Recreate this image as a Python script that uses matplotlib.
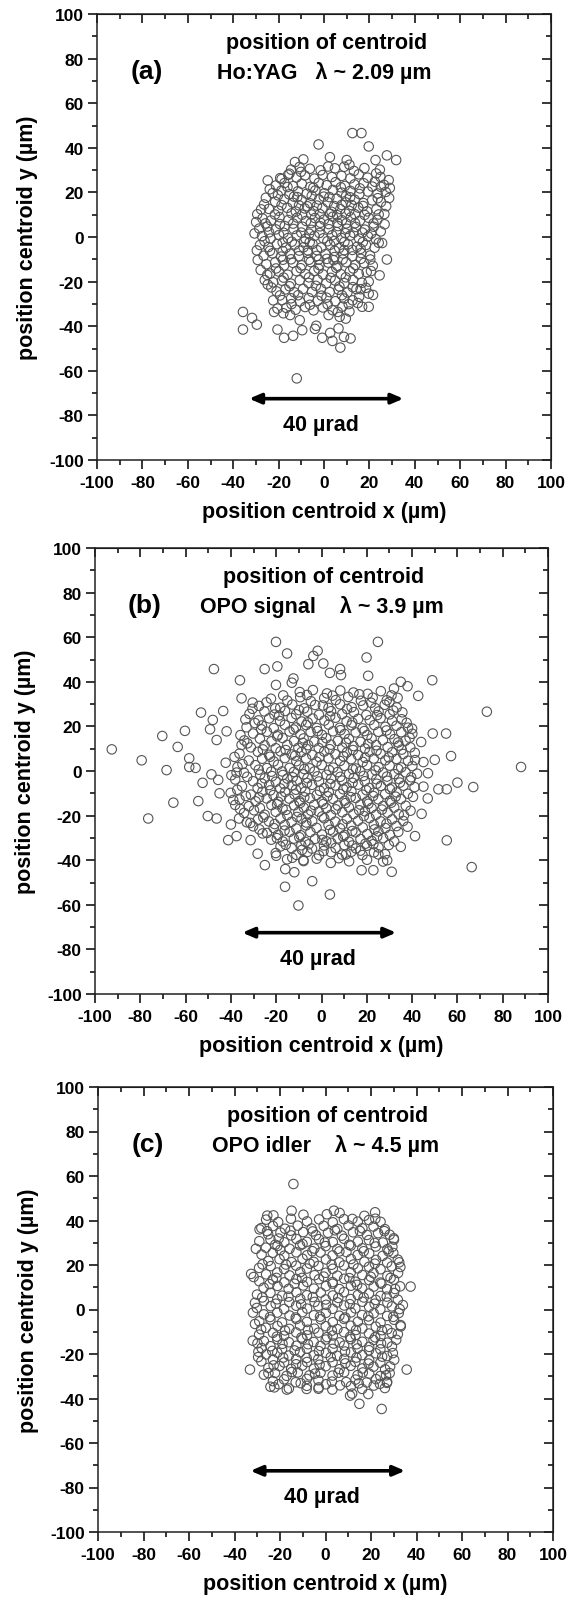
import matplotlib
matplotlib.use("Agg")
import matplotlib.pyplot as plt
from matplotlib.ticker import MultipleLocator, NullFormatter

plt.rcParams['font.family'] = ['Liberation Sans', 'DejaVu Sans']
plt.rcParams['font.weight'] = 'bold'
plt.rcParams['axes.unicode_minus'] = False

# --- data (um) ---
# (a) Ho:YAG, lambda ~ 2.09 um
a_pts = [
    (12.5, 46.6), (16.5, 46.6), (-2.4, 41.5), (19.7, 40.6), (2.6, 35.8), (27.7, 36.6), (31.8, 34.5),
    (22.7, 34.5), (10, 34.5), (-12, -63.4), (-35.7, -33.6), (-31.7, -36.3), (-29.6, -39.3), (-35.7, -41.5),
    (-20.5, -41.5), (-17.6, -45.2), (-13.6, -44.3), (-14.9, -35), (-10.7, -37.3), (-9.6, -41.8), (-4, -41.2),
    (-3.4, -39.8), (-0.8, -45.2), (2.7, -43), (3.7, -46.6), (7.2, -49.6), (6.4, -41), (8.8, -44.8),
    (11.7, -45.5), (9.6, -36.6), (6.9, -35.8), (2, -35), (16.8, -31.3), (19.7, -31.3), (21.6, -26),
    (19.7, -25.4), (19.7, -20), (24.5, -17.2), (27.7, -10.1), (25.6, -2.7), (26.7, 5.7),
    (-27.7, 12.4), (-29.9, 6.7), (-29.6, -6), (-25, -17), (-24.8, -21.3), (-22.4, -28.4), (-22, -33.6),
    (-20.5, -32.1), (-20.3, 18.7), (-18.7, 26), (-15.2, 28.4), (-12.8, 33.6), (-9.1, 34.8), (28.5, 25.5),
    (29, 22), (28.7, 17.5), (23, 28.5), (25, 22.5),
    (-14.5, 30.2), (-10.8, 31.4), (-6.2, 30.6), (-1.5, 29.9), (4.8, 30.8), (8.9, 31.5), (13.2, 29.6),
    (-19.3, 26.4), (-15.8, 27.9), (-12.1, 26.7), (-8.4, 27.6), (-4.2, 26.2), (-0.6, 27.8), (3.5, 26.9),
    (7.7, 27.4), (11.6, 26.3), (15.3, 28.1), (19.2, 26.6), (22.4, 24.8),
    (-21.2, 23.1), (-17.4, 24.2), (-13.6, 22.8), (-9.8, 23.9), (-6, 22.5), (-2.3, 24.3), (1.2, 23.2),
    (5.1, 24.6), (9.2, 22.9), (13.4, 23.6), (17.5, 24.1), (21.3, 22.6), (26.4, 23.4),
    (-22.6, 19.7), (-18.8, 20.8), (-15.3, 19.1), (-11.5, 20.5), (-7.6, 19.4), (-3.8, 20.9), (0.2, 19.6),
    (3.9, 21.1), (7.8, 19.9), (11.6, 20.7), (15.6, 19.3), (19.3, 20.4), (23.6, 19.5), (27.2, 20.2),
    (-21.5, 15.8), (-17.5, 16.9), (-13.8, 15.4), (-9.9, 16.6), (-6.1, 15.1), (-2.2, 16.8), (1.7, 15.6),
    (5.6, 17.1), (9.6, 15.5), (13.5, 16.7), (17.4, 15.2), (21.2, 16.4), (25.1, 15.7),
    (-24.3, 12.6), (-20.1, 11.8), (-16.2, 13.1), (-12.4, 11.4), (-8.5, 12.8), (-4.6, 11.6), (-0.7, 12.9),
    (3.3, 11.3), (7.2, 12.5), (11.1, 11.7), (15.1, 13.2), (19, 11.5), (23.1, 12.4), (26.6, 10.3),
    (-27.1, 8.3), (-23.4, 7.4), (-19.6, 8.9), (-15.7, 7.6), (-11.8, 8.7), (-7.9, 7.2), (-4, 8.5),
    (0, 7.8), (3.9, 9.1), (7.9, 7.5), (11.8, 8.8), (15.8, 7.3), (19.7, 8.6), (23.5, 7.7),
    (-28.5, 3.8), (-25, 4.7), (-21.2, 3.4), (-17.3, 4.9), (-13.4, 3.6), (-9.5, 4.6), (-5.6, 3.2),
    (-1.7, 4.8), (2.2, 3.5), (6.2, 4.9), (10.1, 3.7), (14.1, 4.5), (18, 3.3), (21.9, 4.6), (25, 2.5),
    (-27.3, 0.4), (-23.6, -0.7), (-19.8, 0.9), (-15.9, -0.5), (-12, 0.7), (-8.1, -0.8), (-4.2, 0.5),
    (-0.3, -0.6), (3.6, 0.8), (7.6, -0.4), (11.5, 0.6), (15.5, -0.7), (19.4, 0.3), (22.8, -1),
    (-28.2, -3.6), (-24.5, -4.5), (-20.7, -3.2), (-16.8, -4.8), (-12.9, -3.4), (-9, -4.6), (-5.1, -3.1),
    (-1.2, -4.7), (2.7, -3.5), (6.7, -4.9), (10.6, -3.3), (14.6, -4.4), (18.5, -3.6), (22.3, -4.8),
    (-26.6, -8.4), (-22.7, -7.3), (-18.9, -8.8), (-15, -7.5), (-11.1, -8.6), (-7.2, -7.1), (-3.3, -8.5),
    (0.6, -7.7), (4.6, -9), (8.5, -7.4), (12.5, -8.7), (16.4, -7.2), (20.3, -8.3),
    (-25.4, -12.2), (-21.5, -11.4), (-17.6, -12.8), (-13.7, -11.6), (-9.8, -12.7), (-5.9, -11.2),
    (-2, -12.6), (1.9, -11.5), (5.9, -12.9), (9.8, -11.3), (13.8, -12.5), (17.6, -11.7), (21.5, -12.9),
    (-23.8, -16.4), (-19.9, -15.5), (-16, -16.9), (-12.1, -15.3), (-8.2, -16.6), (-4.3, -15.2),
    (-0.4, -16.8), (3.5, -15.6), (7.5, -16.7), (11.4, -15.4), (15.3, -16.5), (18.8, -15.8),
    (-22.4, -20.3), (-18.5, -19.6), (-14.6, -20.9), (-10.7, -19.4), (-6.8, -20.6), (-2.9, -19.2),
    (1, -20.8), (4.9, -19.5), (8.9, -20.7), (12.8, -19.3), (16.7, -20.5),
    (-20.9, -24.4), (-17, -23.5), (-13.1, -24.8), (-9.2, -23.3), (-5.3, -24.6), (-1.4, -23.2),
    (2.5, -24.7), (6.4, -23.6), (10.3, -24.9), (14.3, -23.4),
    (-18.4, -28.3), (-14.5, -27.5), (-10.6, -28.9), (-6.7, -27.4), (-2.8, -28.6), (1.1, -27.2),
    (5, -28.8), (8.9, -27.6), (12.6, -28.4),
    (-16.6, -31.8), (-12.5, -32.6), (-8.3, -31.4), (-4.6, -32.9), (-0.5, -31.6), (3.8, -32.8),
    (8.1, -31.2), (11.2, -33.4),
    (-13.2, 18.1), (-5.4, 18.4), (2.4, 17.9), (9.7, 18.3), (-11, 14.2), (-3.1, 14.1), (4.5, 13.9),
    (12.2, 14.3), (-9.7, 10), (-1.9, 10.3), (5.8, 9.8), (13.6, 10.2), (-13.6, 6), (-5.8, 6.2), (2, 5.8),
    (9.8, 6.1), (-10, 2), (-2, 1.8), (5.5, 2.2), (13, 1.9), (-14.2, -2.1), (-6.3, -2.3), (1.5, -1.9),
    (9, -2.2), (-10.9, -6.1), (-3.1, -5.9), (4.7, -6.2), (12.5, -5.8), (-14.5, -10), (-6.6, -10.2),
    (1.2, -9.8), (8.2, -10.1), (-10.3, -14), (-2.4, -14.2), (5.4, -13.8), (12.9, -14.1),
]
a_dense = [
    (-24.8, 25.4), (-10.2, 29.2), (1.8, 31.6), (11.2, 32.4), (17.8, 30.9), (24.6, 30.2),
    (-23.9, 21.4), (-16.1, 22.4), (-4.7, 22.1), (7.4, 22.3), (15.8, 21.8), (24.9, 26.9),
    (-25.6, 17.6), (-11.8, 17.9), (-0.1, 18.1), (11.5, 17.8), (23.7, 17.4), (27.4, 13.8),
    (-26.4, 14.6), (-18.7, 14.3), (-7.4, 13.8), (7.8, 14.4), (17.2, 13.9), (24.1, 10.1),
    (-29.4, 10.2), (-21.6, 10.1), (-14.3, 10.6), (-5.6, 10.1), (2.7, 10.4), (9.5, 10.5), (17.9, 9.9),
    (-25.8, 6.1), (-19.4, 5.8), (-1.6, 6.4), (5.9, 6.4), (13.7, 6.2), (21.8, 6.1),
    (-30.6, 1.6), (-24.2, 2.1), (-17.8, 1.9), (-6.5, 1.5), (9.4, 1.7), (16.9, 2), (24.1, -2.6),
    (-26.2, -1.9), (-18.2, -2.4), (-8.7, -2.1), (4.5, -1.8), (17.1, -2.3), (20.8, 1.5),
    (-29.2, -10.3), (-23.8, -6.2), (-18.2, -6.3), (-7.1, -6), (8.9, -5.9), (16.1, -5.3), (20.4, -10.1),
    (-27.9, -14.8), (-21.1, -14.1), (-18.1, -10.2), (-2.3, -10.1), (4.2, -10.4), (16.2, -9.8), (20.7, -15.3),
    (-26.1, -19.3), (-17.8, -18.2), (-6.6, -18.1), (2.9, -18.3), (9.6, -18.1), (16.1, -23.4),
    (-23.2, -22.6), (-15.2, -22.1), (-3.6, -21.9), (6.8, -22.2), (12.7, -22.5), (18.5, -22.8),
    (-19.4, -26.2), (-11.4, -26.1), (-1.1, -26.3), (7.9, -26.1), (15.5, -26.8),
    (-17.9, -34.2), (-14.3, -30.1), (-6.2, -30.4), (1.6, -30.2), (6.1, -33.6), (10.9, -30.1), (14.9, -29.6),
]

# (b) OPO signal, lambda ~ 3.9 um
b_pts = [
    (-92.6, 9.7), (-79.4, 4.8), (-76.5, -21.3), (-70.3, 15.7), (-68.4, 0.4), (-65.4, -14.2), (-63.5, 10.8),
    (-60.3, 18), (-58.4, 5.7), (-58.4, 1.8), (-47.5, 45.7), (-36, 40.7), (-35.3, 32.6), (-30.4, 30.7),
    (-25.1, 45.7), (-20.1, 57.9), (-19.5, 46.9), (-20.1, 38.6), (-15.2, 52.7), (-12.4, 41.5), (-13.1, 39.6),
    (-5.8, 47.9), (-1.7, 53.9), (-3.6, 51.6), (0.8, 48.2), (3.7, 44), (8.2, 45.7), (8.6, 43), (19.9, 50.9),
    (24.9, 57.9), (20.6, 42.7), (42.7, 33.7), (48.9, 40.7), (49.1, 16.8), (55, 16.8), (57.2, 6.7),
    (73, 26.6), (88.1, 1.8), (60, -5.2), (67, -7.2), (55.3, -8.2), (51.6, -8.2), (46.9, -12.3),
    (44.2, -19.2), (41.3, -29.2), (55.3, -31.1), (66.3, -43.1), (31, -45.2), (17.7, -44.5), (22.9, -44.5),
    (25.1, -37.4), (10.8, -37.4), (3.7, -55.4), (-4.1, -49.4), (-10.2, -60.3), (-16.1, -51.9), (-12, -45.4),
    (-25, -42.2), (-28.2, -37.1), (-41.2, -31), (-37.5, -29.2), (-31.3, -31), (-50.2, -20.2),
    (-46.3, -21.3), (-54.4, -13.5), (-52.5, -5.3), (-53.2, 26.2), (-48, 22.9), (-49.2, 18.7), (-43.4, 26.9),
    (-41.9, 17.8), (-46.3, 13.9), (-42.3, 3.7), (-35.3, 11.7), (-37.5, -0.7), (-48.6, -1.5), (-45.6, -4),
    (-55.6, 1.4), (-39, -13), (-45, -10), (-33, -23), (-40, -24), (-26, -28), (-36, -17), (32, 37),
    (35, 40), (38, 38), (30, 31), (47, -1), (45, 4), (44, 13), (40, 19), (50, 5), (45, -7), (38, -25),
    (35, -34), (29, -40), (-8, -40), (-20, -38), (-16, -44),
    (-9.6, 35.4), (-3.8, 36.3), (2.4, 34.8), (8.3, 36.1), (14.1, 35.2), (20.4, 34.6), (26.2, 35.8),
    (-22.3, 32.4), (-15.1, 31.6), (-9.4, 33.1), (-4.7, 31.3), (1.2, 32.7), (6.3, 31.8), (11.8, 33.2),
    (17.4, 31.5), (22.6, 32.9), (28.8, 31.7), (33.6, 32.8),
    (-27.6, 29.2), (-18.2, 28.4), (-12.9, 29.8), (-7.7, 28.1), (-2.8, 29.6), (3.1, 28.3), (8.2, 29.9),
    (13.3, 28.6), (18.4, 29.4), (23.7, 28.2), (27.9, 29.7), (33.2, 28.5),
    (-31.8, 25.6), (-25.2, 26.7), (-20.8, 25.3), (-16.1, 26.9), (-11.2, 25.4), (-6.3, 26.6), (-1.1, 25.2),
    (4.2, 26.8), (9.1, 25.5), (14.3, 26.4), (19.8, 25.1), (25.2, 26.7), (30.1, 25.4), (35.7, 26.3),
    (-27.8, 22.7), (-23.1, 23.6), (-18.3, 22.4), (-13.2, 23.8), (-8.8, 22.2), (-3.9, 23.5), (1.3, 22.6),
    (6.2, 23.9), (11.1, 22.3), (16.2, 23.4), (21.3, 22.8), (26.1, 23.7), (31.2, 22.5), (35.4, 23.2),
    (-33.1, 19.6), (-26.3, 20.4), (-21.1, 19.2), (-16.2, 20.7), (-11.3, 19.5), (-6.8, 20.6), (-2.1, 19.3),
    (3.2, 20.8), (8.1, 19.4), (13.2, 20.5), (18.1, 19.1), (23.3, 20.6), (28.2, 19.8), (33.1, 20.3),
    (38.2, 19.4),
    (-30.2, 16.8), (-24.1, 17.6), (-19.2, 16.3), (-14.1, 17.7), (-9.3, 16.4), (-4.8, 17.5), (0.2, 16.2),
    (5.1, 17.8), (10.2, 16.6), (15.1, 17.3), (20.2, 16.1), (25.1, 17.6), (30.3, 16.5), (35.2, 17.4),
    (40.1, 16.7),
    (-34.1, 13.7), (-27.2, 14.5), (-22.1, 13.3), (-17.2, 14.8), (-12.1, 13.4), (-7.9, 14.6), (-3.2, 13.2),
    (2.1, 14.7), (7.2, 13.5), (12.1, 14.4), (17.2, 13.1), (22.1, 14.6), (27.1, 13.8), (32.2, 14.3),
    (37.1, 13.6),
    (-31.2, 10.6), (-25.1, 11.5), (-20.2, 10.2), (-15.1, 11.7), (-10.2, 10.4), (-5.9, 11.6), (-1.2, 10.3),
    (4.1, 11.8), (9.2, 10.5), (14.1, 11.2), (19.2, 10.1), (24.1, 11.6), (29.2, 10.7), (34.1, 11.4),
    (39.2, 10.6),
    (-36.2, 7.8), (-28.1, 8.6), (-23.2, 7.3), (-18.1, 8.8), (-13.2, 7.4), (-8.8, 8.5), (-4.1, 7.2),
    (1.2, 8.7), (6.1, 7.5), (11.2, 8.3), (16.1, 7.1), (21.2, 8.6), (26.1, 7.7), (31.2, 8.4), (36.1, 7.6),
    (41.2, 8.2),
    (-32.1, 4.7), (-26.2, 5.5), (-21.1, 4.3), (-16.2, 5.8), (-11.1, 4.4), (-6.8, 5.6), (-2.2, 4.2),
    (3.1, 5.7), (8.2, 4.5), (13.1, 5.3), (18.2, 4.1), (23.1, 5.6), (28.2, 4.8), (33.1, 5.4), (38.2, 4.6),
    (-37.1, 1.8), (-29.2, 2.6), (-24.1, 1.3), (-19.2, 2.8), (-14.1, 1.4), (-9.9, 2.5), (-5.2, 1.2),
    (0.1, 2.7), (5.2, 1.5), (10.1, 2.3), (15.2, 1.1), (20.1, 2.6), (25.2, 1.7), (30.1, 2.4), (35.2, 1.6),
    (40.1, 2.2),
    (-34.2, -0.8), (-27.1, -1.6), (-22.2, -0.3), (-17.1, -1.8), (-12.2, -0.4), (-7.9, -1.5), (-3.1, -0.2),
    (2.2, -1.7), (7.1, -0.5), (12.2, -1.3), (17.1, -0.1), (22.2, -1.6), (27.1, -0.7), (32.2, -1.4),
    (37.1, -0.6), (42.2, -1.2),
    (-38.1, -3.8), (-30.2, -4.6), (-25.1, -3.3), (-20.2, -4.8), (-15.1, -3.4), (-10.9, -4.5), (-6.2, -3.2),
    (-1.1, -4.7), (4.2, -3.5), (9.1, -4.3), (14.2, -3.1), (19.1, -4.6), (24.2, -3.7), (29.1, -4.4),
    (34.2, -3.6), (39.1, -4.2),
    (-35.1, -6.8), (-28.2, -7.6), (-23.1, -6.3), (-18.2, -7.8), (-13.1, -6.4), (-8.9, -7.5), (-4.2, -6.2),
    (1.1, -7.7), (6.2, -6.5), (11.1, -7.3), (16.2, -6.1), (21.1, -7.6), (26.2, -6.7), (31.1, -7.4),
    (36.2, -6.6), (41.1, -7.2),
    (-40.1, -9.8), (-31.2, -10.6), (-26.1, -9.3), (-21.2, -10.8), (-16.1, -9.4), (-11.9, -10.5),
    (-7.2, -9.2), (-2.1, -10.7), (3.2, -9.5), (8.1, -10.3), (13.2, -9.1), (18.1, -10.6), (23.2, -9.7),
    (28.1, -10.4), (33.2, -9.6), (38.1, -10.2),
    (-36.2, -12.8), (-29.1, -13.6), (-24.2, -12.3), (-19.1, -13.8), (-14.2, -12.4), (-9.8, -13.5),
    (-5.1, -12.2), (0.2, -13.7), (5.1, -12.5), (10.2, -13.3), (15.1, -12.1), (20.2, -13.6), (25.1, -12.7),
    (30.2, -13.4), (35.1, -12.6),
    (-32.1, -15.8), (-27.2, -16.6), (-22.1, -15.3), (-17.2, -16.8), (-12.1, -15.4), (-7.8, -16.5),
    (-3.2, -15.2), (2.1, -16.7), (7.2, -15.5), (12.1, -16.3), (17.2, -15.1), (22.1, -16.6), (27.2, -15.7),
    (32.1, -16.4), (37.2, -15.6),
    (-34.2, -18.8), (-25.1, -19.6), (-20.2, -18.3), (-15.1, -19.8), (-10.2, -18.4), (-5.9, -19.5),
    (-1.2, -18.2), (4.1, -19.7), (9.2, -18.5), (14.1, -19.3), (19.2, -18.1), (24.1, -19.6), (29.2, -18.7),
    (34.1, -19.4),
    (-28.1, -21.8), (-23.2, -22.6), (-18.1, -21.3), (-13.2, -22.8), (-8.8, -21.4), (-4.1, -22.5),
    (1.2, -21.2), (6.1, -22.7), (11.2, -21.5), (16.1, -22.3), (21.2, -21.1), (26.1, -22.6), (31.2, -21.7),
    (36.1, -22.4),
    (-30.2, -24.8), (-21.1, -25.6), (-16.2, -24.3), (-11.1, -25.8), (-6.8, -24.4), (-2.2, -25.5),
    (3.1, -24.2), (8.2, -25.7), (13.1, -24.5), (18.2, -25.3), (23.1, -24.1), (28.2, -25.6), (33.1, -24.7),
    (-24.1, -27.8), (-19.2, -28.6), (-14.1, -27.3), (-9.2, -28.8), (-4.9, -27.4), (0.2, -28.5),
    (5.1, -27.2), (10.2, -28.7), (15.1, -27.5), (20.2, -28.3), (25.1, -27.1), (30.2, -28.6),
    (-22.2, -30.8), (-17.1, -31.6), (-12.2, -30.3), (-7.1, -31.8), (-2.8, -30.4), (2.1, -31.5),
    (7.2, -30.2), (12.1, -31.7), (17.2, -30.5), (22.1, -31.3), (27.2, -30.1), (32.1, -31.6),
    (-18.1, -33.8), (-13.2, -34.6), (-8.9, -33.3), (-4.2, -34.8), (1.1, -33.4), (6.2, -34.5),
    (10.1, -33.2), (15.2, -34.7), (20.1, -33.5), (25.2, -34.3),
    (-20.2, -36.8), (-11.1, -37.6), (-6.2, -36.3), (-1.1, -37.8), (4.2, -36.4), (9.1, -37.5),
    (13.2, -36.2), (18.1, -37.7), (23.2, -36.5), (28.1, -37.3),
    (-15.2, -39.6), (-7.9, -40.4), (-2.1, -39.3), (12.2, -40.5), (20.1, -39.8), (27.2, -40.6),
]
b_dense = [
    (-30.5, 27.9), (-24.3, 30.8), (-16.9, 33.9), (-6.4, 34.1), (4.9, 33.8), (16.7, 34.4), (30.9, 33.9),
    (-33.6, 23.1), (-20.4, 28.1), (-9.9, 27.3), (0.6, 29.4), (11.3, 27.8), (21.9, 30.6), (31.7, 27.1),
    (-29.4, 21.5), (-18.7, 24.9), (-6.1, 21.8), (3.8, 24.6), (13.6, 21.7), (24.6, 25.1), (37.6, 21.6),
    (-35.8, 16.1), (-26.6, 18.7), (-12.3, 18.6), (-1.7, 17.9), (8.4, 18.3), (18.9, 17.9), (28.7, 18.2),
    (38.9, 14.9), (-32.7, 12.4), (-19.6, 15.6), (-8.3, 12.6), (0.4, 12.9), (10.8, 12.7), (20.6, 12.1),
    (33.8, 12.8), (-38.4, 6.3), (-25.9, 9.7), (-15.8, 9.4), (-6.7, 9.9), (3.6, 9.8), (13.9, 9.4),
    (24.3, 9.1), (35.4, 9.6), (-34.9, 3.1), (-22.7, 6.4), (-11.6, 6.9), (-0.9, 6.2), (9.7, 6.6),
    (19.3, 5.9), (29.7, 6.1), (41.3, 4.9), (-39.8, -1.9), (-27.7, 0.6), (-17.4, -0.2), (-7.6, 0.9),
    (3.4, 0.4), (13.8, 0.8), (23.9, 0.3), (33.9, 0.9), (-32.8, -2.6), (-21.8, -2.3), (-12.7, -2.8),
    (-1.8, -2.4), (8.3, -2.6), (18.6, -2.2), (28.9, -2.5), (39.6, -2.8), (-37.2, -8.4), (-26.4, -5.6),
    (-16.5, -5.9), (-6.4, -5.4), (3.9, -5.8), (13.7, -5.3), (24.4, -5.7), (34.6, -5.2), (-33.4, -11.2),
    (-22.6, -8.7), (-11.3, -8.4), (-0.7, -8.9), (9.6, -8.2), (19.8, -8.6), (30.2, -8.1), (40.4, -11.6),
    (-38.1, -15.2), (-27.6, -11.9), (-17.8, -11.4), (-7.6, -11.8), (2.6, -11.3), (12.9, -11.7),
    (22.8, -11.2), (32.7, -11.5), (-29.8, -17.6), (-19.6, -14.9), (-9.4, -14.3), (0.8, -14.8),
    (10.6, -14.4), (20.7, -14.7), (30.8, -14.2), (39.3, -17.8), (-36.4, -21.3), (-25.7, -20.8),
    (-15.6, -17.4), (-4.6, -17.8), (6.3, -17.2), (16.6, -17.6), (26.7, -17.3), (36.4, -19.9),
    (-31.4, -23.3), (-20.7, -23.8), (-10.8, -20.6), (0.3, -20.4), (9.3, -23.9), (18.7, -20.2),
    (28.7, -23.6), (33.9, -27.3), (-27.4, -26.2), (-16.3, -26.7), (-6.7, -23.1), (3.8, -26.4),
    (13.6, -26.9), (23.4, -26.2), (29.7, -33.2), (-19.7, -30.1), (-9.8, -29.7), (0.4, -30.9),
    (9.6, -29.4), (19.4, -32.6), (24.6, -29.3), (-15.8, -33.1), (-5.7, -32.9), (4.3, -32.2),
    (13.6, -33.4), (22.9, -32.8), (-8.6, -35.4), (0.9, -35.9), (7.6, -39.1), (17.2, -35.7),
    (-12.9, -38.9), (4.1, -41.2),
]

# (c) OPO idler, lambda ~ 4.5 um
c_pts = [
    (-14.1, 56.4), (-14.9, 44.4), (3.7, 44.4), (21.8, 43.7), (-25.6, 42.2), (11.8, 40.7), (37.4, 10.3),
    (32.4, 21.2), (-32.7, 16), (-33.2, -27), (35.7, -27), (24.7, -44.7), (14.9, -42.4), (18.8, -38),
    (10.8, -38.7), (-29.5, -19), (-31, -6.5), (-22.5, -35), (-8.3, -35.7), (-17, -36), (-3, -35),
    (3, -36), (27, -33), (33, -7), (34, 2), (-31, 3), (-32, -14), (30, 32), (-29, 36),
    (-26.1, 40.4), (-20.8, 39.3), (-15.2, 40.8), (-8.1, 39.6), (-2.8, 40.5), (3.2, 39.2), (8.1, 40.6),
    (14.2, 39.5), (19.1, 40.2), (24.2, 39.4),
    (-28.2, 36.6), (-23.1, 37.5), (-17.8, 36.3), (-12.2, 37.7), (-6.1, 36.4), (-0.8, 37.6), (5.2, 36.2),
    (10.1, 37.8), (16.2, 36.5), (21.1, 37.3), (26.1, 36.1),
    (-25.2, 33.8), (-19.8, 34.6), (-15.1, 33.3), (-9.8, 34.8), (-4.2, 33.4), (1.1, 34.5), (7.2, 33.2),
    (12.1, 34.7), (18.2, 33.5), (23.1, 34.3), (28.2, 33.6),
    (-29.1, 30.7), (-24.2, 31.5), (-18.1, 30.2), (-12.8, 31.7), (-8.2, 30.4), (-2.9, 31.6), (3.2, 30.3),
    (8.1, 31.8), (14.2, 30.5), (19.1, 31.2), (25.2, 30.1), (30.1, 31.4),
    (-26.2, 27.8), (-21.1, 28.6), (-15.8, 27.3), (-11.2, 28.8), (-4.9, 27.4), (0.1, 28.5), (5.2, 27.2),
    (11.1, 28.7), (16.2, 27.5), (22.1, 28.3), (27.2, 27.1),
    (-28.1, 24.7), (-23.2, 25.5), (-18.1, 24.2), (-12.8, 25.7), (-8.1, 24.4), (-2.2, 25.6), (3.1, 24.3),
    (9.2, 25.8), (14.1, 24.5), (19.2, 25.2), (25.1, 24.1), (29.8, 25.4),
    (-25.1, 21.8), (-20.2, 22.6), (-14.9, 21.3), (-10.1, 22.8), (-5.2, 21.4), (0.2, 22.5), (6.1, 21.2),
    (11.2, 22.7), (17.1, 21.5), (22.2, 22.3), (27.1, 21.1), (31.8, 22.4),
    (-29.2, 18.7), (-24.1, 19.5), (-18.2, 18.2), (-12.9, 19.7), (-8.2, 18.4), (-3.1, 19.6), (3.2, 18.3),
    (8.1, 19.8), (14.2, 18.5), (19.1, 19.2), (24.2, 18.1), (29.1, 19.4),
    (-26.1, 15.8), (-21.2, 16.6), (-15.8, 15.3), (-11.1, 16.8), (-4.8, 15.4), (0.1, 16.5), (5.2, 15.2),
    (11.1, 16.7), (16.2, 15.5), (21.1, 16.3), (27.2, 15.1), (31.9, 16.4),
    (-29.1, 12.7), (-23.2, 13.5), (-18.1, 12.2), (-12.8, 13.7), (-8.1, 12.4), (-2.9, 13.6), (3.1, 12.3),
    (8.2, 13.8), (13.1, 12.5), (19.2, 13.2), (24.1, 12.1), (30.1, 13.4),
    (-27.2, 9.8), (-21.1, 10.6), (-16.2, 9.3), (-9.8, 10.8), (-5.1, 9.4), (0.2, 10.5), (6.1, 9.2),
    (11.2, 10.7), (16.1, 9.5), (21.2, 10.3), (27.1, 9.1), (32.8, 10.4),
    (-30.1, 6.7), (-24.2, 7.5), (-19.1, 6.2), (-12.8, 7.7), (-8.2, 6.4), (-2.1, 7.6), (3.2, 6.3),
    (8.1, 7.8), (14.2, 6.5), (19.1, 7.2), (24.2, 6.1), (30.1, 7.4),
    (-27.1, 3.8), (-21.2, 4.6), (-15.9, 3.3), (-11.1, 4.8), (-4.8, 3.4), (0.1, 4.5), (5.2, 3.2),
    (11.1, 4.7), (16.2, 3.5), (22.1, 4.3), (27.2, 3.1), (31.8, 4.4),
    (-30.2, 0.7), (-24.1, 1.5), (-18.2, 0.2), (-12.9, 1.7), (-8.1, 0.4), (-3.2, 1.6), (3.1, 0.3),
    (8.2, 1.8), (13.1, 0.5), (19.2, 1.2), (24.1, 0.1), (29.2, 1.4),
    (-27.1, -2.2), (-21.2, -1.4), (-15.8, -2.7), (-10.2, -1.2), (-5.1, -2.6), (0.2, -1.5), (6.1, -2.8),
    (11.2, -1.3), (16.1, -2.5), (21.2, -1.7), (27.1, -2.9), (32.2, -1.6),
    (-29.1, -5.3), (-24.2, -4.5), (-19.1, -5.8), (-12.8, -4.3), (-8.2, -5.6), (-2.1, -4.4), (3.2, -5.7),
    (8.1, -4.2), (14.2, -5.5), (19.1, -4.8), (24.2, -5.9), (30.1, -4.6),
    (-26.2, -8.2), (-21.1, -7.4), (-15.9, -8.7), (-11.2, -7.2), (-4.9, -8.6), (0.1, -7.5), (5.2, -8.8),
    (11.1, -7.3), (16.2, -8.5), (22.1, -7.7), (27.2, -8.9), (33.1, -7.6),
    (-29.2, -11.3), (-23.1, -10.5), (-18.2, -11.8), (-12.9, -10.3), (-8.1, -11.6), (-3.1, -10.4),
    (3.2, -11.7), (8.1, -10.2), (13.2, -11.5), (19.1, -10.8), (24.2, -11.9), (29.1, -10.6),
    (-27.1, -14.2), (-21.2, -13.4), (-16.1, -14.7), (-10.1, -13.2), (-5.2, -14.6), (0.1, -13.5),
    (6.2, -14.8), (11.1, -13.3), (16.2, -14.5), (21.1, -13.7), (27.2, -14.9), (31.1, -13.6),
    (-28.1, -17.3), (-24.2, -16.5), (-19.1, -17.8), (-12.8, -16.3), (-8.2, -17.6), (-2.2, -16.4),
    (3.1, -17.7), (8.2, -16.2), (14.1, -17.5), (19.2, -16.8), (24.1, -17.9), (29.2, -16.6),
    (-26.1, -20.2), (-21.2, -19.4), (-16.1, -20.7), (-11.2, -19.2), (-5.1, -20.6), (0.2, -19.5),
    (5.1, -20.8), (11.2, -19.3), (16.1, -20.5), (22.2, -19.7), (27.1, -20.9),
    (-28.2, -23.3), (-23.1, -22.5), (-18.2, -23.8), (-12.9, -22.3), (-8.1, -23.6), (-3.2, -22.4),
    (3.1, -23.7), (8.2, -22.2), (13.1, -23.5), (19.2, -22.8), (24.1, -23.9), (30.2, -22.6),
    (-25.1, -26.2), (-20.2, -25.4), (-15.1, -26.7), (-10.2, -25.2), (-5.1, -26.6), (0.1, -25.5),
    (6.2, -26.8), (11.1, -25.3), (16.2, -26.5), (21.1, -25.7), (26.2, -26.9),
    (-27.1, -29.3), (-22.2, -28.5), (-17.1, -29.8), (-12.2, -28.3), (-7.1, -29.6), (-2.2, -28.4),
    (3.1, -29.7), (8.2, -28.2), (14.1, -29.5), (19.2, -28.8), (24.1, -29.9), (28.2, -28.6),
    (-23.1, -32.2), (-18.2, -31.4), (-13.1, -32.7), (-8.2, -31.2), (-3.1, -31.8), (2.8, -32.4),
    (9.1, -32.6), (13.2, -31.5), (18.1, -32.8), (22.2, -31.3), (27.1, -32.5),
    (-24.2, -34.7), (-16.1, -35.5), (-8.2, -34.3), (-3.1, -35.6), (11.2, -34.4), (16.1, -35.7),
    (21.2, -34.2), (26.1, -35.3),
]
c_dense = [
    (-22.9, 42.3), (-9.7, 42.6), (0.6, 42.8), (6.2, 43.4), (17.1, 42.1), (21.9, 40.8),
    (-25.7, 35.2), (-20.6, 31.9), (-15.4, 35.4), (-5.6, 35.1), (4.1, 35.6), (15.1, 35.3), (25.9, 35.2),
    (-22.1, 29.1), (-10.1, 29.4), (-0.3, 30.1), (10.4, 29.1), (21.6, 29.9), (29.4, 28.2),
    (-30.6, 27.3), (-19.9, 26.8), (-5.8, 26.2), (6.1, 26.1), (16.8, 26.2), (27.7, 26.1),
    (-27.7, 20.3), (-17.4, 20.2), (-6.9, 20.6), (2.7, 20.1), (12.3, 20.2), (21.7, 20.6), (32.9, 19.1),
    (-31.6, 14.6), (-21.6, 14.2), (-10.3, 14.2), (-0.8, 14.8), (10.5, 14.1), (19.9, 14.7), (28.6, 14.2),
    (-24.6, 11.4), (-13.6, 11.6), (3.2, 11.6), (13.9, 11.1), (24.6, 11.6), (30.6, 9.2),
    (-27.8, 5.4), (-16.3, 5.8), (-5.6, 5.6), (5.6, 5.2), (16.8, 5.4), (26.9, 5.8),
    (-21.9, 2.6), (-10.7, 2.3), (0.3, 2.1), (10.7, 2.4), (21.6, 2.6), (32.6, 0.2),
    (-31.9, -1.4), (-24.4, -3.4), (-13.1, -3.6), (-2.4, -3.2), (8.7, -3.6), (18.8, -3.1), (29.8, -3.3),
    (-28.3, -8.9), (-17.8, -9.4), (-7.7, -9.1), (2.8, -9.5), (13.4, -9.2), (24.8, -9.3),
    (-21.4, -12.2), (-10.6, -12.6), (0.7, -12.4), (10.8, -12.3), (21.8, -12.5), (31.8, -11.1),
    (-29.9, -15.2), (-18.9, -15.4), (-7.7, -15.6), (3.6, -15.3), (13.7, -15.6), (24.4, -15.2),
    (-23.4, -18.6), (-13.6, -18.4), (-2.9, -18.7), (8.6, -18.9), (19.1, -18.3), (29.6, -19.6),
    (-29.6, -21.4), (-18.6, -21.6), (-8.3, -21.8), (2.3, -21.4), (13.6, -21.6), (24.9, -21.2),
    (-22.8, -25.1), (-12.9, -24.6), (-2.6, -24.8), (8.7, -24.2), (18.9, -24.3), (28.4, -25.6),
    (-25.1, -28.6), (-14.8, -28.1), (-4.6, -28.8), (5.7, -28.4), (16.4, -28.3), (26.6, -29.6),
    (-20.6, -33.6), (-10.9, -33.1), (0.2, -33.6), (6.4, -34.1), (14.6, -33.2), (23.9, -33.4), (11.7, -37.8),
]

tags = ['(a)', '(b)', '(c)']
sources = ['Ho:YAG   \u03bb ~ 2.09 \u00b5m', 'OPO signal    \u03bb ~ 3.9 \u00b5m', 'OPO idler    \u03bb ~ 4.5 \u00b5m']
arrow_ends = [(-33, 35), (-35, 33), (-33, 35)]

# axes rectangles in figure fractions (568 x 1606 px)
rects = [
    (97 / 568, 1 - 461 / 1606, 454 / 568, 446 / 1606),
    (95 / 568, 1 - 995 / 1606, 453 / 568, 446 / 1606),
    (98 / 568, 1 - 1533 / 1606, 455 / 568, 445 / 1606),
]

fig = plt.figure(figsize=(5.68, 16.06), dpi=100)

panel_pts = [a_pts + a_dense, b_pts + b_dense, c_pts + c_dense]

for i, rect in enumerate(rects):
    ax = fig.add_axes(rect)
    xs, ys = zip(*panel_pts[i])
    ax.scatter(xs, ys, s=46, facecolors='none', edgecolors='#555555', linewidths=0.8, zorder=3)

    ax.set_xlim(-100, 100)
    ax.set_ylim(-100, 100)
    ax.xaxis.set_major_locator(MultipleLocator(20))
    ax.xaxis.set_minor_locator(MultipleLocator(10))
    ax.yaxis.set_major_locator(MultipleLocator(20))
    ax.yaxis.set_minor_locator(MultipleLocator(10))
    ax.tick_params(which='major', direction='out', length=6.5, width=1.1, labelsize=12.5)
    ax.tick_params(axis='x', which='major', pad=4)
    ax.tick_params(axis='y', which='major', pad=3)
    ax.tick_params(which='minor', direction='out', length=3.5, width=1.1)
    for sp in ax.spines.values():
        sp.set_linewidth(1.1)
        sp.set_color('#222222')

    # mirrored inward ticks on top and right
    top = ax.secondary_xaxis('top')
    top.xaxis.set_major_locator(MultipleLocator(20))
    top.xaxis.set_minor_locator(MultipleLocator(10))
    top.xaxis.set_major_formatter(NullFormatter())
    top.tick_params(which='major', direction='in', length=6.5, width=1.1)
    top.tick_params(which='minor', direction='in', length=3.5, width=1.1)
    right = ax.secondary_yaxis('right')
    right.yaxis.set_major_locator(MultipleLocator(20))
    right.yaxis.set_minor_locator(MultipleLocator(10))
    right.yaxis.set_major_formatter(NullFormatter())
    right.tick_params(which='major', direction='in', length=6.5, width=1.1)
    right.tick_params(which='minor', direction='in', length=3.5, width=1.1)

    ax.set_xlabel('position centroid x (\u00b5m)', fontsize=15.5, fontweight='bold', labelpad=8)
    ax.set_ylabel('position centroid y (\u00b5m)', fontsize=15.5, fontweight='bold', labelpad=8)

    ax.text(1, 87, 'position of centroid', ha='center', va='center', fontsize=15.5, fontweight='bold')
    ax.text(0, 74, sources[i], ha='center', va='center', fontsize=15.5, fontweight='bold')
    ax.text(-78, 74.5, tags[i], ha='center', va='center', fontsize=19, fontweight='bold')

    x0, x1 = arrow_ends[i]
    ax.annotate('', xy=(x1, -72.5), xytext=(x0, -72.5),
                arrowprops=dict(arrowstyle='<|-|>,head_length=0.7,head_width=0.3',
                                lw=2.6, color='black', shrinkA=0, shrinkB=0))
    ax.text(-1.5, -84, '40 \u00b5rad', ha='center', va='center', fontsize=15.5, fontweight='bold')

fig.savefig('out.png', dpi=100)
